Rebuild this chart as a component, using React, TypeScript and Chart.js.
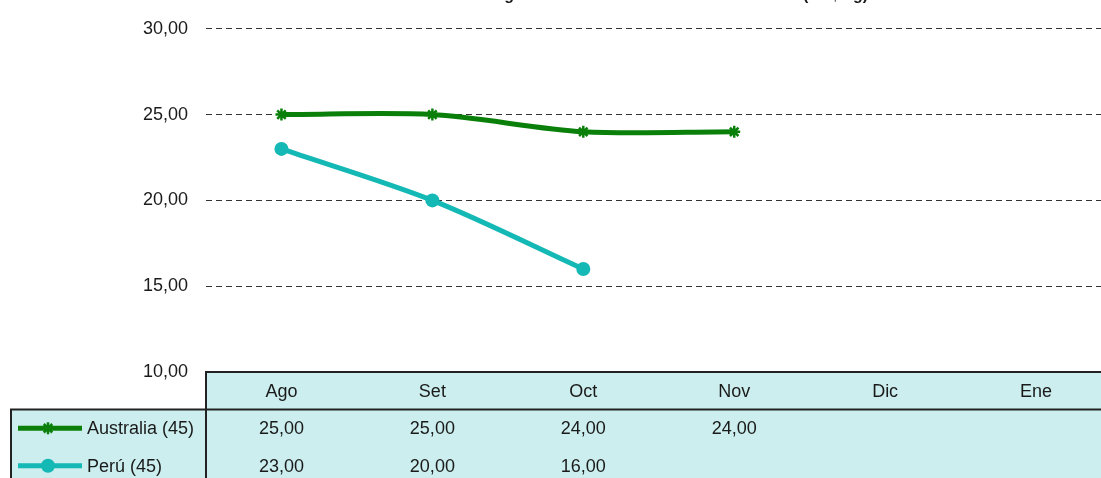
import React, { useEffect, useRef } from "react";
import { Chart, registerables } from "chart.js";

Chart.register(...registerables);

const months = ["Ago", "Set", "Oct", "Nov", "Dic", "Ene"];
const australia = [25, 25, 24, 24, null, null];
const peru = [23, 20, 16, null, null, null];
const seriesNames = ["Australia (45)", "Perú (45)"];
const seriesColors = ["#0a800a", "#14b8b4"];
const yMin = 10;
const yMax = 30;
const yStep = 5;
const title = "Precio Medio Semanal – Origen en mercados de Australia vs. Perú (US$/kg)";

const FONT = "'Liberation Sans', Arial, Helvetica, sans-serif";
const fmt = (v: number) => v.toFixed(2).replace(".", ",");

function drawMarker(ctx: CanvasRenderingContext2D, style: string, x: number, y: number, color: string) {
  ctx.save();
  ctx.strokeStyle = color;
  ctx.fillStyle = color;
  if (style === "star") {
    ctx.lineWidth = 2.5;
    const r = 6;
    ctx.beginPath();
    for (let k = 0; k < 4; k++) {
      const a = (k * Math.PI) / 4;
      ctx.moveTo(x - r * Math.cos(a), y - r * Math.sin(a));
      ctx.lineTo(x + r * Math.cos(a), y + r * Math.sin(a));
    }
    ctx.stroke();
  } else {
    ctx.beginPath();
    ctx.arc(x, y, 7, 0, Math.PI * 2);
    ctx.fill();
  }
  ctx.restore();
}

const tablePlugin = {
  id: "dataTable",
  afterDraw(chart: any) {
    const { ctx, chartArea, scales } = chart;
    const xs = scales.x;
    const top = chartArea.bottom;
    const rowH = 37.5;
    const left = chartArea.left;
    const right = chartArea.right;
    const legendLeft = 11;
    const h = chart.height;
    ctx.save();
    ctx.fillStyle = "#cceeee";
    ctx.fillRect(left, top, right - left, rowH);
    ctx.fillRect(legendLeft, top + rowH, right - legendLeft, h - top - rowH + 5);

    ctx.font = `18px ${FONT}`;
    ctx.fillStyle = "#1a1a1a";
    ctx.textAlign = "center";
    ctx.textBaseline = "middle";
    months.forEach((m, i) => ctx.fillText(m, xs.getPixelForValue(i), top + rowH / 2 + 1));

    chart.data.datasets.forEach((ds: any, r: number) => {
      const cy = top + rowH * (r + 1.5);
      ds.data.forEach((v: number | null, i: number) => {
        if (v === null || v === undefined) return;
        ctx.fillStyle = "#1a1a1a";
        ctx.textAlign = "center";
        ctx.fillText(fmt(v), xs.getPixelForValue(i), cy + 1);
      });
      ctx.strokeStyle = ds.borderColor;
      ctx.lineWidth = 5;
      ctx.beginPath();
      ctx.moveTo(18, cy);
      ctx.lineTo(82, cy);
      ctx.stroke();
      drawMarker(ctx, ds.pointStyle, 48, cy, ds.borderColor);
      ctx.fillStyle = "#1a1a1a";
      ctx.textAlign = "left";
      ctx.fillText(ds.label, 87, cy + 1);
    });

    ctx.strokeStyle = "#222222";
    ctx.lineWidth = 2;
    ctx.beginPath();
    ctx.moveTo(left, h + 5);
    ctx.lineTo(left, top);
    ctx.lineTo(right + 5, top);
    ctx.moveTo(legendLeft, h + 5);
    ctx.lineTo(legendLeft, top + rowH);
    ctx.lineTo(right + 5, top + rowH);
    ctx.stroke();

    ctx.font = `bold 16px ${FONT}`;
    ctx.fillStyle = "#1a1a1a";
    ctx.textAlign = "right";
    ctx.textBaseline = "alphabetic";
    ctx.fillText(title, 868, 0);
    ctx.restore();
  },
};

export default function App() {
  const ref = useRef<HTMLCanvasElement | null>(null);
  useEffect(() => {
    if (!ref.current) return;
    const chart = new Chart(ref.current, {
      type: "line",
      data: {
        labels: months,
        datasets: [
          {
            label: seriesNames[0],
            data: australia,
            borderColor: seriesColors[0],
            backgroundColor: seriesColors[0],
            borderWidth: 5,
            pointStyle: "star",
            pointRadius: 6,
            pointBorderWidth: 2.5,
            tension: 0.3,
            spanGaps: false,
          },
          {
            label: seriesNames[1],
            data: peru,
            borderColor: seriesColors[1],
            backgroundColor: seriesColors[1],
            borderWidth: 5,
            pointStyle: "circle",
            pointRadius: 7,
            pointBorderWidth: 0,
            tension: 0.3,
            spanGaps: false,
          },
        ] as any,
      },
      options: {
        responsive: false,
        animation: false,
        devicePixelRatio: 1,
        layout: { padding: { top: 26, bottom: 106, left: 0, right: 1 } },
        plugins: {
          legend: { display: false },
          tooltip: { enabled: false },
          title: { display: false },
        },
        scales: {
          x: {
            type: "category",
            offset: true,
            display: false,
          },
          y: {
            min: yMin,
            max: yMax,
            afterFit: (s: any) => {
              s.width = 206;
            },
            ticks: {
              stepSize: yStep,
              padding: 18,
              color: "#1a1a1a",
              font: { family: FONT, size: 18 },
              callback: (v: any) => fmt(Number(v)),
            },
            grid: {
              drawTicks: false,
              color: "#333333",
              lineWidth: 1,
            },
            border: { display: false, dash: [6, 4] },
          },
        },
      } as any,
      plugins: [tablePlugin],
    });
    return () => chart.destroy();
  }, []);
  return (
    <div style={{ position: "absolute", left: 0, top: 0, width: 1101, height: 478, overflow: "hidden", background: "#fff" }}>
      <canvas ref={ref} width={1120} height={478} style={{ display: "block" }} />
    </div>
  );
}
